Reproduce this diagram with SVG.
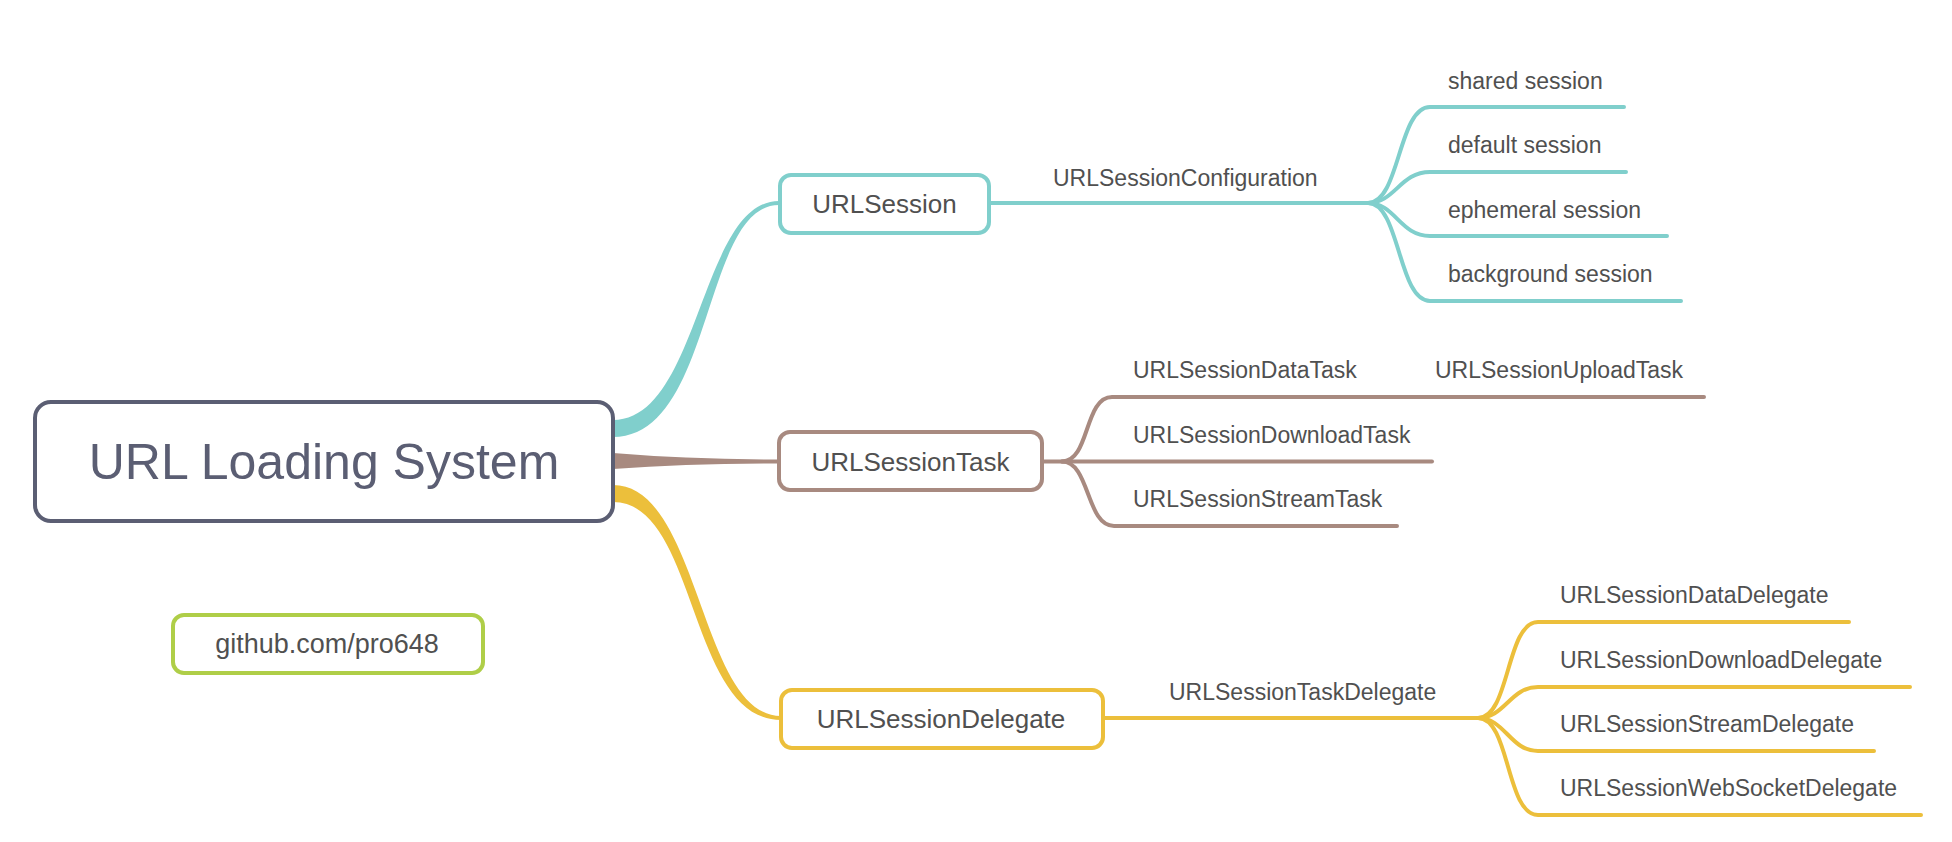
<svg xmlns="http://www.w3.org/2000/svg" width="1952" height="842" viewBox="0 0 1952 842">
<style>
.bg{fill:#ffffff}
.box{fill:#ffffff;stroke-width:4}
.ln{fill:none;stroke-width:4;stroke-linecap:round}
.teal{stroke:#80cfcc}
.brown{stroke:#a88a80}
.yellow{stroke:#ecbf3b}
.t{font-family:"Liberation Sans",Arial,sans-serif;fill:#505050}
.node{font-size:26px;text-anchor:middle}
.lab{font-size:23px}
.root{font-size:50px;text-anchor:middle;fill:#5b5e73}
</style>
<rect class="bg" x="0" y="0" width="1952" height="842"/>
<g id="connectors">
  <path d="M613,420 C700,420 700,201 779,201 L779,205 C702,205 714,437 613,437 Z" fill="#80cfcc"/>
  <path d="M613,453 Q690,459.5 779,459.5 L779,463.5 Q690,463.5 613,469 Z" fill="#a88a80"/>
  <path d="M613,485 C700,485 700,716 781,716 L781,720 C688,720 698,502 613,502 Z" fill="#ecbf3b"/>
  <path class="ln teal" d="M989,203 H1368"/>
  <path class="ln teal" d="M1368,203 C1400,203 1398,107 1430,107 H1624"/>
  <path class="ln teal" d="M1368,203 C1395,203 1400,172 1430,172 H1626"/>
  <path class="ln teal" d="M1368,203 C1395,203 1400,236 1430,236 H1667"/>
  <path class="ln teal" d="M1368,203 C1400,203 1398,301 1430,301 H1681"/>
  <path class="ln brown" d="M1042,461.5 H1432"/>
  <path class="ln brown" d="M1062,461.5 C1090,461.5 1084,397 1112,397 H1704"/>
  <path class="ln brown" d="M1062,461.5 C1090,461.5 1086,526 1114,526 H1397"/>
  <path class="ln yellow" d="M1103,718 H1478"/>
  <path class="ln yellow" d="M1478,718 C1510,718 1506,622 1538,622 H1849"/>
  <path class="ln yellow" d="M1478,718 C1505,718 1510,687 1538,687 H1910"/>
  <path class="ln yellow" d="M1478,718 C1505,718 1510,751 1538,751 H1874"/>
  <path class="ln yellow" d="M1478,718 C1510,718 1506,815 1538,815 H1921"/>
</g>
<g id="root">
  <rect class="box" x="35" y="402" width="578" height="119" rx="16" stroke="#5b5e73" stroke-width="4.5"/>
  <text class="t root" x="324" y="479">URL Loading System</text>
</g>
<g id="urlsession">
  <rect class="box teal" x="780" y="175" width="209" height="58" rx="11"/>
  <text class="t node" x="884.5" y="213">URLSession</text>
</g>
<g id="urlsessionconfiguration"><text class="t lab" x="1053" y="186">URLSessionConfiguration</text></g>
<g id="shared"><text class="t lab" x="1448" y="89">shared session</text></g>
<g id="default"><text class="t lab" x="1448" y="153">default session</text></g>
<g id="ephemeral"><text class="t lab" x="1448" y="218">ephemeral session</text></g>
<g id="background"><text class="t lab" x="1448" y="282">background session</text></g>
<g id="urlsessiontask">
  <rect class="box brown" x="779" y="432" width="263" height="58" rx="11"/>
  <text class="t node" x="910.5" y="470.5">URLSessionTask</text>
</g>
<g id="datatask"><text class="t lab" x="1133" y="378">URLSessionDataTask</text></g>
<g id="uploadtask"><text class="t lab" x="1435" y="378">URLSessionUploadTask</text></g>
<g id="downloadtask"><text class="t lab" x="1133" y="443">URLSessionDownloadTask</text></g>
<g id="streamtask"><text class="t lab" x="1133" y="507">URLSessionStreamTask</text></g>
<g id="urlsessiondelegate">
  <rect class="box yellow" x="781" y="690" width="322" height="58" rx="11"/>
  <text class="t node" x="941" y="728">URLSessionDelegate</text>
</g>
<g id="taskdelegate"><text class="t lab" x="1169" y="700">URLSessionTaskDelegate</text></g>
<g id="datadelegate"><text class="t lab" x="1560" y="603">URLSessionDataDelegate</text></g>
<g id="downloaddelegate"><text class="t lab" x="1560" y="668">URLSessionDownloadDelegate</text></g>
<g id="streamdelegate"><text class="t lab" x="1560" y="732">URLSessionStreamDelegate</text></g>
<g id="websocketdelegate"><text class="t lab" x="1560" y="796">URLSessionWebSocketDelegate</text></g>
<g id="github">
  <rect class="box" x="173" y="615" width="310" height="58" rx="11" stroke="#afce48"/>
  <text class="t node" x="327" y="653" style="font-size:27px">github.com/pro648</text>
</g>
</svg>
